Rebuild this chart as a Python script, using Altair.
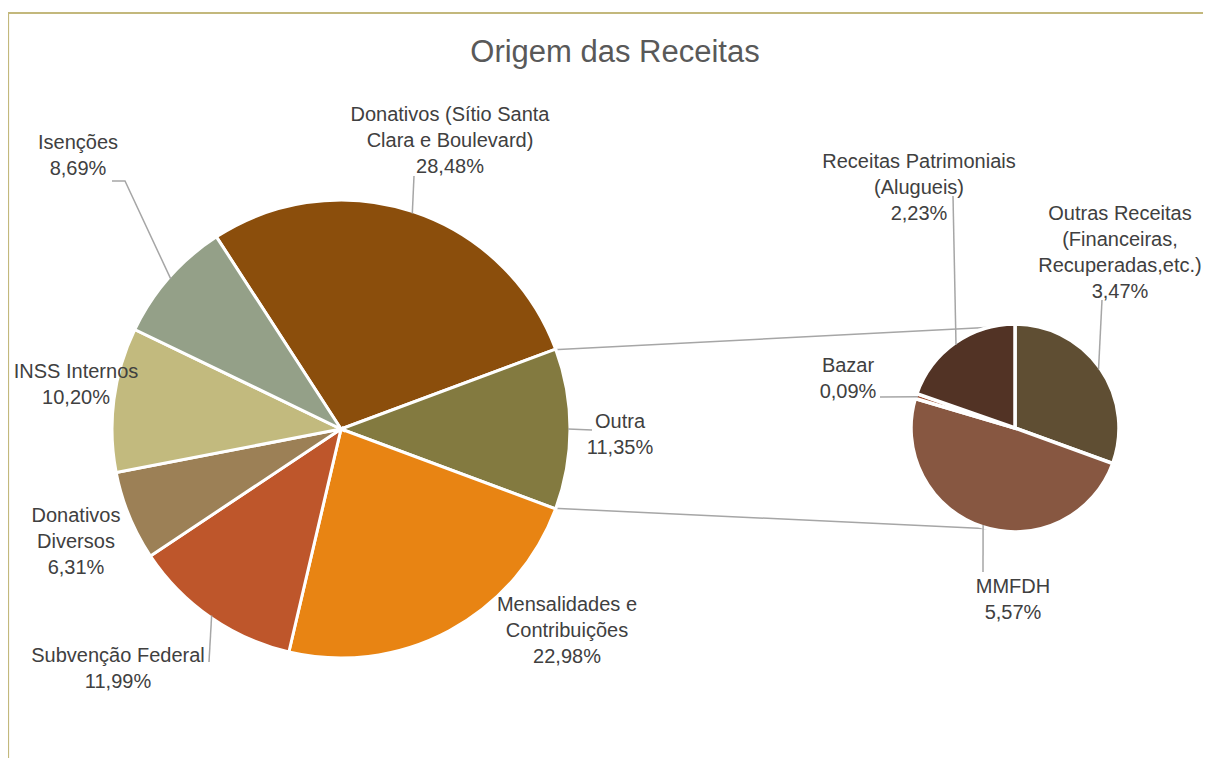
import math
import altair as alt
import pandas as pd

# ---------------- data ----------------
title_text = "Origem das Receitas"

main_names = ["Donativos (Sítio Santa Clara e Boulevard)", "Outra", "Mensalidades e Contribuições",
              "Subvenção Federal", "Donativos Diversos", "INSS Internos", "Isenções"]
main_label_names = ["Donativos (Sítio Santa\nClara e Boulevard)", "Outra", "Mensalidades e\nContribuições",
                    "Subvenção Federal", "Donativos\nDiversos", "INSS Internos", "Isenções"]
main_values = [28.48, 11.35, 22.98, 11.99, 6.31, 10.20, 8.69]

sub_names = ["Outras Receitas (Financeiras, Recuperadas,etc.)", "MMFDH", "Bazar",
             "Receitas Patrimoniais (Alugueis)"]
sub_label_names = ["Outras Receitas\n(Financeiras,\nRecuperadas,etc.)", "MMFDH", "Bazar",
                   "Receitas Patrimoniais\n(Alugueis)"]
sub_values = [3.47, 5.57, 0.09, 2.23]

# ---------------- styles / layout ----------------
main_colors = ["#8B4E0C", "#837A40", "#E88413", "#BE562B", "#9C8056", "#C2BA7E", "#94A088"]
sub_colors = ["#5F4E33", "#875741", "#9B4A2C", "#523325"]

W, H = 1195, 750
FONT = "Liberation Sans"
MAIN_CX, MAIN_CY, MAIN_R = 341, 429, 229
SUB_CX, SUB_CY, SUB_R = 1015, 428, 104
SPLIT = 1  # index of the main slice that is broken out ("Outra")

# position of the first text line of each label (centre)
main_label_pos = [(450, 115), (620, 422), (567, 605), (118, 656), (76, 516), (76, 372), (78, 143)]
sub_label_pos = [(1120, 214), (1013, 587), (848, 366), (919, 162)]
main_leader_to = {0: [(414, 176)], 1: [(592, 430)], 3: [(209, 662)], 6: [(125, 181), (112, 181)]}
sub_leader_to = {0: [(1102, 300)], 1: [(983, 572)], 2: [(880, 397)], 3: [(953, 196)]}

LINE_GRAY = "#A6A6A6"
BORDER = "#C3B87C"

# ---------------- derived ----------------
main_total = sum(main_values)
sub_total = sum(sub_values)
main_start_deg = (90 - (sum(main_values[:SPLIT]) + main_values[SPLIT] / 2) / main_total * 360) % 360
main_start = math.radians(main_start_deg)


def pct(v):
    return f"{v:.2f}".replace(".", ",") + "%"


def edge(cx, cy, r, deg):
    a = math.radians(deg)
    return cx + r * math.sin(a), cy - r * math.cos(a)


def mids(values, total, start_deg):
    out, acc = [], 0.0
    for v in values:
        out.append(start_deg + (acc + v / 2) / total * 360)
        acc += v
    return out


main_df = pd.DataFrame({"name": main_names, "value": main_values, "idx": range(len(main_names)),
                        "cx": MAIN_CX, "cy": MAIN_CY})
sub_df = pd.DataFrame({"name": sub_names, "value": sub_values, "idx": range(len(sub_names)),
                       "cx": SUB_CX, "cy": SUB_CY})

labels_df = pd.DataFrame({
    "label": [n + "\n" + pct(v) for n, v in zip(main_label_names, main_values)]
             + [n + "\n" + pct(v) for n, v in zip(sub_label_names, sub_values)],
    "x": [p[0] for p in main_label_pos] + [p[0] for p in sub_label_pos],
    "y": [p[1] for p in main_label_pos] + [p[1] for p in sub_label_pos],
})

rows = []
mm = mids(main_values, main_total, main_start_deg)
for i, pts in main_leader_to.items():
    x0, y0 = edge(MAIN_CX, MAIN_CY, MAIN_R - 2, mm[i])
    seq = [(x0, y0)] + pts
    for k, (px, py) in enumerate(seq):
        rows.append({"id": f"m{i}", "k": k, "x": px, "y": py})
sm = mids(sub_values, sub_total, 0)
for i, pts in sub_leader_to.items():
    x0, y0 = edge(SUB_CX, SUB_CY, SUB_R - 2, sm[i])
    seq = [(x0, y0)] + pts
    for k, (px, py) in enumerate(seq):
        rows.append({"id": f"s{i}", "k": k, "x": px, "y": py})
leaders_df = pd.DataFrame(rows)

a_top = main_start_deg + sum(main_values[:SPLIT]) / main_total * 360
a_bot = main_start_deg + sum(main_values[:SPLIT + 1]) / main_total * 360
t0 = edge(MAIN_CX, MAIN_CY, MAIN_R - 2, a_top)
b0 = edge(MAIN_CX, MAIN_CY, MAIN_R - 2, a_bot)
conn_df = pd.DataFrame({"x": [t0[0], b0[0]], "y": [t0[1], b0[1]],
                        "x2": [SUB_CX, SUB_CX], "y2": [SUB_CY - SUB_R + 2, SUB_CY + SUB_R - 2]})

border_df = pd.DataFrame({"x": [8, 8], "y": [13, 13], "x2": [8, 8 + W], "y2": [8 + H + 20, 13]})

title_df = pd.DataFrame({"t": [title_text], "x": [615], "y": [53]})

# ---------------- chart ----------------
xs = alt.Scale(domain=[8, 8 + W], nice=False, zero=False)
ys = alt.Scale(domain=[8, 8 + H], nice=False, zero=False, reverse=True)
color_scale = alt.Scale(domain=main_names + sub_names, range=main_colors + sub_colors)

border = alt.Chart(border_df).mark_rule(color=BORDER, strokeWidth=2.2).encode(
    x=alt.X("x:Q", scale=xs, axis=None), y=alt.Y("y:Q", scale=ys, axis=None), x2="x2:Q", y2="y2:Q")

connectors = alt.Chart(conn_df).mark_rule(color=LINE_GRAY, strokeWidth=1.5).encode(
    x=alt.X("x:Q", scale=xs, axis=None), y=alt.Y("y:Q", scale=ys, axis=None), x2="x2:Q", y2="y2:Q")

main_pie = alt.Chart(main_df).mark_arc(radius=MAIN_R, stroke="white", strokeWidth=3).encode(
    x=alt.X("cx:Q", scale=xs, axis=None),
    y=alt.Y("cy:Q", scale=ys, axis=None),
    theta=alt.Theta("value:Q", stack=True, scale=alt.Scale(range=[main_start, main_start + 2 * math.pi])),
    order=alt.Order("idx:Q"),
    color=alt.Color("name:N", scale=color_scale, legend=None),
)

sub_pie = alt.Chart(sub_df).mark_arc(radius=SUB_R, stroke="white", strokeWidth=3.5).encode(
    x=alt.X("cx:Q", scale=xs, axis=None),
    y=alt.Y("cy:Q", scale=ys, axis=None),
    theta=alt.Theta("value:Q", stack=True, scale=alt.Scale(range=[0, 2 * math.pi])),
    order=alt.Order("idx:Q"),
    color=alt.Color("name:N", scale=color_scale, legend=None),
)

leaders = alt.Chart(leaders_df).mark_line(color=LINE_GRAY, strokeWidth=1.5).encode(
    x=alt.X("x:Q", scale=xs, axis=None), y=alt.Y("y:Q", scale=ys, axis=None),
    detail="id:N", order="k:Q")

labels = alt.Chart(labels_df).mark_text(font=FONT, fontSize=20, color="#404040", lineBreak="\n",
                                        lineHeight=26, align="center", baseline="middle").encode(
    x=alt.X("x:Q", scale=xs, axis=None), y=alt.Y("y:Q", scale=ys, axis=None), text="label:N")

title = alt.Chart(title_df).mark_text(font=FONT, fontSize=31, color="#595959", align="center",
                                      baseline="middle").encode(
    x=alt.X("x:Q", scale=xs, axis=None), y=alt.Y("y:Q", scale=ys, axis=None), text="t:N")

chart = alt.layer(border, connectors, main_pie, sub_pie, leaders, labels, title).resolve_scale(
    theta="independent"
).properties(
    width=W, height=H, autosize=alt.AutoSizeParams(type="none"), padding=0, background="white"
).configure_view(stroke=None)

chart.save("out.html", embed_options={"renderer": "svg", "actions": False})
